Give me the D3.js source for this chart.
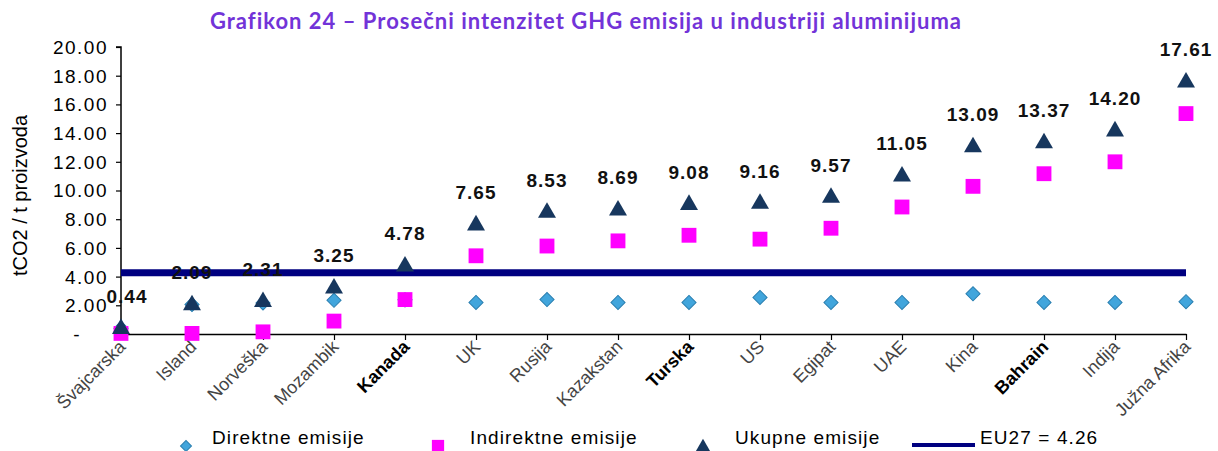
<!DOCTYPE html>
<html>
<head>
<meta charset="utf-8">
<script src="https://cdn.jsdelivr.net/npm/d3@7"></script>
<style>
  body { margin: 0; background: #fff; }
  svg { display: block; font-family: "Liberation Sans", Arial, sans-serif; }
</style>
</head>
<body>
<svg id="chart"></svg>
<script>
const width = 1218;
const height = 451;

// data
const countries = ["Švajcarska", "Island", "Norveška", "Mozambik", "Kanada", "UK", "Rusija", "Kazakstan",
  "Turska", "US", "Egipat", "UAE", "Kina", "Bahrain", "Indija", "Južna Afrika"];
const boldCountries = ["Kanada", "Turska", "Bahrain"];
const direct = [0.40, 2.05, 2.16, 2.35, 2.38, 2.20, 2.40, 2.20, 2.20, 2.55, 2.20, 2.20, 2.80, 2.20, 2.20, 2.25];
const indirect = [0.04, 0.04, 0.15, 0.90, 2.40, 5.45, 6.13, 6.49, 6.88, 6.61, 7.37, 8.85, 10.29, 11.17, 12.00, 15.36];
const total = [0.44, 2.09, 2.31, 3.25, 4.78, 7.65, 8.53, 8.69, 9.08, 9.16, 9.57, 11.05, 13.09, 13.37, 14.20, 17.61];
const eu27 = 4.26;
const yTicks = [0, 2, 4, 6, 8, 10, 12, 14, 16, 18, 20];

const colDirect = "#41a5dc";
const colIndirect = "#ff00ff";
const colTotal = "#17375e";
const colEU = "#000080";

const svg = d3.select("#chart").attr("width", width).attr("height", height);

const margin = { left: 121, right: 32, top: 47, bottom: 117 };

const x = d3.scalePoint()
  .domain(countries)
  .range([margin.left, width - margin.right])
  .padding(0);

const y = d3.scaleLinear()
  .domain([0, 20])
  .range([height - margin.bottom, margin.top]);

// title
svg.append("text")
  .attr("x", 586)
  .attr("y", 29)
  .attr("text-anchor", "middle")
  .style("font-family", "Lato, 'Open Sans', sans-serif")
  .style("font-weight", "bold")
  .style("font-size", "22px")
  .style("letter-spacing", "1px")
  .style("fill", "#7233d8")
  .text("Grafikon 24 – Prosečni intenzitet GHG emisija u industriji aluminijuma");

// y axis
const yAxis = svg.append("g")
  .attr("transform", `translate(${margin.left},0)`)
  .call(d3.axisLeft(y).tickValues(yTicks).tickSize(5)
    .tickFormat(d => d === 0 ? "-" : d3.format(".2f")(d)));
yAxis.select(".domain").attr("stroke", "#000").attr("stroke-width", 1.5).attr("d", `M-5,${y(20)}H0V${y(0)}`);
yAxis.selectAll(".tick line").attr("stroke", "#000").attr("stroke-width", 1.2);
yAxis.selectAll(".tick text")
  .style("font-size", "19px")
  .style("letter-spacing", "1.5px")
  .style("fill", "#000")
  .attr("x", d => d === 0 ? -40 : -13)
  .attr("dy", "0.34em");

// y title
svg.append("text")
  .attr("transform", `translate(27,${y(10) + 5}) rotate(-90)`)
  .attr("text-anchor", "middle")
  .style("font-size", "20px")
  .style("fill", "#000")
  .text("tCO2 / t proizvoda");

// x axis
const xAxis = svg.append("g")
  .attr("transform", `translate(0,${y(0)})`)
  .call(d3.axisBottom(x).tickSize(6).tickSizeOuter(0));
xAxis.select(".domain").attr("stroke", "#000").attr("stroke-width", 1.5);
xAxis.selectAll(".tick line").attr("stroke", "#000").attr("stroke-width", 1.2);
xAxis.selectAll(".tick text")
  .attr("text-anchor", "end")
  .attr("x", 0)
  .attr("y", 0)
  .attr("dy", 0)
  .attr("transform", "translate(5,14) rotate(-45)")
  .style("font-size", "18px")
  .style("font-weight", d => boldCountries.includes(d) ? "bold" : "normal")
  .style("fill", d => boldCountries.includes(d) ? "#000" : "#444");

// EU27 line
svg.append("line")
  .attr("x1", x(countries[0]))
  .attr("x2", x(countries[countries.length - 1]))
  .attr("y1", y(eu27))
  .attr("y2", y(eu27))
  .attr("stroke", colEU)
  .attr("stroke-width", 7);

const sym = (type, size) => d3.symbol().type(type).size(size)();

// direct - diamonds
svg.append("g").selectAll("path")
  .data(direct)
  .join("path")
  .attr("transform", (d, i) => `translate(${x(countries[i])},${y(d)}) rotate(45)`)
  .attr("d", sym(d3.symbolSquare, 100))
  .attr("fill", colDirect)
  .attr("stroke", "#2a7fb0")
  .attr("stroke-width", 1);

// indirect - squares
svg.append("g").selectAll("path")
  .data(indirect)
  .join("path")
  .attr("transform", (d, i) => `translate(${x(countries[i])},${y(d)})`)
  .attr("d", sym(d3.symbolSquare, 220))
  .attr("fill", colIndirect);

// total - triangles
svg.append("g").selectAll("path")
  .data(total)
  .join("path")
  .attr("transform", (d, i) => `translate(${x(countries[i])},${y(d) + 1})`)
  .attr("d", sym(d3.symbolTriangle, 140))
  .attr("fill", colTotal);

// value labels
svg.append("g").selectAll("text")
  .data(total)
  .join("text")
  .attr("x", (d, i) => x(countries[i]) + (i === 0 ? 6 : 0))
  .attr("y", d => y(d) - 25)
  .attr("text-anchor", "middle")
  .style("font-size", "19px")
  .style("font-weight", "bold")
  .style("letter-spacing", "1px")
  .style("fill", "#111")
  .text(d => d3.format(".2f")(d));

// legend
const legend = [
  { label: "Direktne emisije", kind: "diamond", sx: 186, tx: 212 },
  { label: "Indirektne emisije", kind: "square", sx: 438, tx: 470 },
  { label: "Ukupne emisije", kind: "triangle", sx: 703, tx: 735 },
  { label: "EU27 = 4.26", kind: "line", sx: 945, tx: 980 }
];
const lg = svg.append("g");
legend.forEach(l => {
  if (l.kind === "diamond") {
    lg.append("path").attr("transform", `translate(${l.sx},446) rotate(45)`)
      .attr("d", sym(d3.symbolSquare, 60)).attr("fill", colDirect).attr("stroke", "#2a7fb0");
  } else if (l.kind === "square") {
    lg.append("path").attr("transform", `translate(${l.sx},446)`)
      .attr("d", sym(d3.symbolSquare, 150)).attr("fill", colIndirect);
  } else if (l.kind === "triangle") {
    lg.append("path").attr("transform", `translate(${l.sx},448)`)
      .attr("d", sym(d3.symbolTriangle, 110)).attr("fill", colTotal);
  } else {
    lg.append("line").attr("x1", 912).attr("x2", 975).attr("y1", 445).attr("y2", 445)
      .attr("stroke", colEU).attr("stroke-width", 4);
  }
  lg.append("text").attr("x", l.tx).attr("y", 444)
    .style("font-size", "19px").style("letter-spacing", "1.1px")
    .style("fill", "#000").text(l.label);
});
</script>
</body>
</html>
